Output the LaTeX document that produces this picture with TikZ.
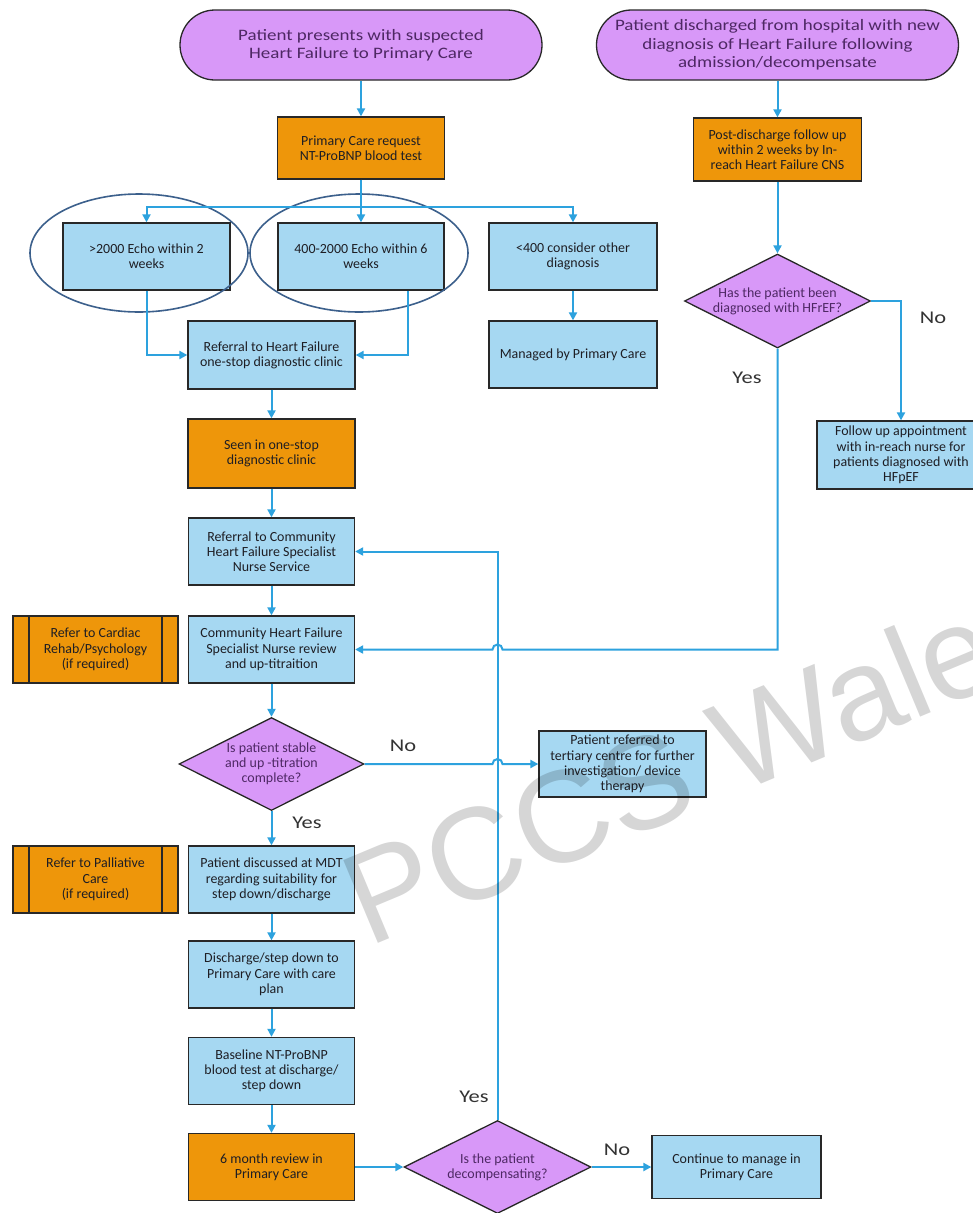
\documentclass[tikz,border=0pt]{standalone}
\usepackage{fontspec}
\setmainfont{Carlito}
\newfontfamily\termfont{Carlito}[FakeStretch=1.19]
\newfontfamily\labelfont{Carlito}[FakeStretch=1.25]
\newfontfamily\markfont{Liberation Sans}
\usetikzlibrary{arrows.meta,shapes.geometric}

\definecolor{vio}{RGB}{216,152,248}
\definecolor{org}{RGB}{238,150,10}
\definecolor{sky}{RGB}{166,216,242}
\definecolor{wire}{RGB}{45,162,222}
\definecolor{ring}{RGB}{60,96,140}
\definecolor{edgec}{RGB}{40,40,40}
\definecolor{vtext}{RGB}{78,40,100}
\definecolor{btext}{RGB}{30,30,36}

\tikzset{
  boxbase/.style={draw=edgec, line width=1.3bp, align=center, inner sep=1bp,
    font=\fontsize{14}{15.3}\selectfont, text=btext},
  sized/.style 2 args={minimum width=#1, minimum height=#2},
  term/.style={boxbase, fill=vio, rounded corners=35bp, sized={362bp}{70bp},
    font=\termfont\fontsize{16}{18.5}\selectfont, text=vtext},
  obox/.style={boxbase, fill=org, sized={166bp}{67bp}},
  bbox/.style={boxbase, fill=sky, sized={166bp}{67bp}},
  proc/.style={obox, path picture={
      \draw[edgec, line width=1.3bp]
        ([xshift=16bp]path picture bounding box.north west) -- ([xshift=16bp]path picture bounding box.south west)
        ([xshift=-16bp]path picture bounding box.north east) -- ([xshift=-16bp]path picture bounding box.south east);}},
  decide/.style={diamond, draw=edgec, line width=1.3bp, fill=vio, inner sep=0pt},
  dtext/.style={font=\fontsize{14}{15.3}\selectfont, text=vtext, align=center, inner sep=0pt},
  ringc/.style={ellipse, draw=ring, line width=1.6bp, sized={218bp}{118bp}},
  wa/.style={draw=wire, line width=2bp, -{Triangle[length=8bp,width=8bp]}},
  yn/.style={font=\labelfont\fontsize{18}{20}\selectfont, text=black!80},
}

\begin{document}
\begin{tikzpicture}[x=1bp,y=-1bp]
\useasboundingbox (0,0) rectangle (973,1213);
\fill[white] (0,0) rectangle (973,1213);
\clip (0,0) rectangle (973,1213);

% entry points
\node[term] (t1) at (361,45) {Patient presents with suspected\\Heart Failure to Primary Care};
\node[term] (t2) at (777.5,45) {Patient discharged from hospital with new\\diagnosis of Heart Failure following\\admission/decompensate};

% primary care pathway
\node[obox, sized={167bp}{62bp}] (pc) at (361,148) {Primary Care request\\NT-ProBNP blood test};
\node[bbox, sized={167bp}{67bp}] (e2k) at (146.5,256.5) {>2000 Echo within 2\\weeks};
\node[bbox, sized={166bp}{67bp}] (e400) at (361,256.5) {400-2000 Echo within 6\\weeks};
\node[bbox, sized={168bp}{67bp}] (lt400) at (573,256.5) {<400 consider other\\diagnosis};
\node[bbox, sized={168bp}{67bp}] (mpc) at (573,354.5) {Managed by Primary Care};
\node[ringc] (ring1) at (139,253) {};
\node[ringc] (ring2) at (359,253) {};

\node[bbox, sized={167bp}{68bp}] (ref1) at (271.5,355) {Referral to Heart Failure\\one-stop diagnostic clinic};
\node[obox, sized={167bp}{69bp}] (seen) at (271.5,453.5) {Seen in one-stop\\diagnostic clinic};
\node[bbox] (ref2) at (271.5,551.5) {Referral to Community\\Heart Failure Specialist\\Nurse Service};
\node[bbox] (chf) at (271.5,649.5) {Community Heart Failure\\Specialist Nurse review\\and up-titraition};
\node[proc, sized={165bp}{67bp}] (rehab) at (95.5,649.5) {Refer to Cardiac\\Rehab/Psychology\\(if required)};

\node[decide, sized={185bp}{93bp},
  label={[dtext]center:{Is patient stable\\and up -titration\\complete?}}] (dstable) at (271.5,764) {};
\node[bbox, sized={167bp}{66bp}] (tert) at (622.5,764) {Patient referred to\\tertiary centre for further\\investigation/ device\\therapy};

\node[bbox] (mdt) at (271.5,879.5) {Patient discussed at MDT\\regarding suitability for\\step down/discharge};
\node[proc, sized={165bp}{67bp}] (pall) at (95.5,879.5) {Refer to Palliative\\Care\\(if required)};
\node[bbox] (dis) at (271.5,974.5) {Discharge/step down to\\Primary Care with care\\plan};
\node[bbox] (basel) at (271.5,1071) {Baseline NT-ProBNP\\blood test at discharge/\\step down};
\node[obox] (six) at (271.5,1167) {6 month review in\\Primary Care};
\node[decide, sized={187bp}{93bp},
  label={[dtext]center:{Is the patient\\decompensating?}}] (ddec) at (497.5,1167) {};
\node[bbox, sized={169bp}{63bp}] (cont) at (736.5,1167) {Continue to manage in\\Primary Care};

% post-discharge pathway
\node[obox, sized={168bp}{63bp}] (pd) at (777.5,149.5) {Post-discharge follow up\\within 2 weeks by In-\\reach Heart Failure CNS};
\node[decide, sized={186bp}{94bp},
  label={[dtext]center:{Has the patient been\\diagnosed with HFrEF?}}] (dhf) at (777.5,301) {};
\node[bbox, sized={168bp}{68bp}] (fu) at (901,455) {Follow up appointment\\with in-reach nurse for\\patients diagnosed with\\HFpEF};

% branch labels
\node[yn] (no1) at (933,318) {No};
\node[yn] (yes1) at (747,378) {Yes};
\node[yn] (no2) at (403,746) {No};
\node[yn] (yes2) at (307,823) {Yes};
\node[yn] (yes3) at (474,1097) {Yes};
\node[yn] (no3) at (617,1150) {No};

% connectors
\coordinate (bus) at (361,207);
\draw[wa] (t1) -- (pc);
\draw[wa] (pc.south) -- (e400.north);
\draw[wa] (bus) -| (e2k.north);
\draw[wa] (bus) -| (lt400.north);
\draw[wa] (lt400) -- (mpc);
\draw[wa] (e2k.south) |- (ref1.west);
\draw[wa] ([xshift=-37bp]e400.south east) |- (ref1.east);
\draw[wa] (ref1) -- (seen);
\draw[wa] (seen) -- (ref2);
\draw[wa] (ref2) -- (chf);
\draw[wa] (chf) -- (dstable);
\draw[wa] (dstable) -- (mdt);
\draw[wa] (mdt) -- (dis);
\draw[wa] (dis) -- (basel);
\draw[wa] (basel) -- (six);
\draw[wa] (six) -- (ddec);
\draw[wa] (ddec) -- (cont);
\draw[wa] (ddec.north) |- (ref2.east);

\coordinate (hopA) at (ddec.north |- dstable.east);
\coordinate (hopB) at (ddec.north |- chf.east);
\draw[wa] (dstable.east) -- ([xshift=-5bp]hopA) arc[start angle=180, end angle=0, radius=5bp] -- (tert.west);

\draw[wa] (t2) -- (pd);
\draw[wa] (pd) -- (dhf);
\draw[wa] (dhf.east) -| (fu.north);
\draw[wa] (dhf.south) |- ([xshift=5bp]hopB) arc[start angle=0, end angle=180, radius=5bp] -- (chf.east);

% watermark
\node[rotate=22.7, anchor=base west, text=black, opacity=0.16,
  font=\markfont\fontsize{131}{131}\selectfont, inner sep=0pt] (wm) at (368,948) {PCCS Wales};
\end{tikzpicture}
\end{document}
